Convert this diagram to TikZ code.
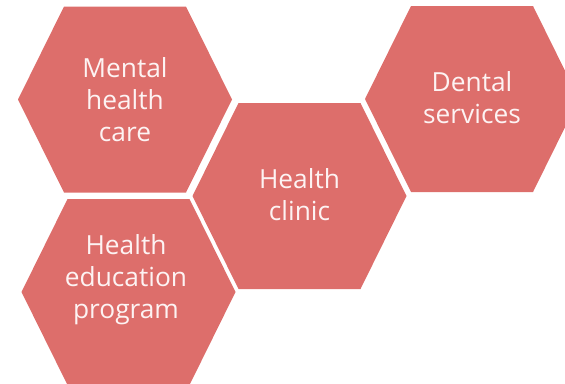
\documentclass[tikz,border=0pt]{standalone}
\usepackage{fontspec}
\setmainfont{Open Sans}
\definecolor{hexred}{HTML}{DD6E6B}
\definecolor{hextext}{HTML}{FDF3F3}
\tikzset{
  hexfill/.style={fill=hexred},
  hexlabel/.style={text=hextext, align=center, font=\fontsize{26.3}{32}\selectfont, inner sep=0pt}
}
\newcommand{\hexat}[2]{%
  \fill[hexfill] ({#1-107},{#2}) -- ({#1-61},{#2-93}) -- ({#1+61},{#2-93}) --
    ({#1+107},{#2}) -- ({#1+61},{#2+93}) -- ({#1-61},{#2+93}) -- cycle;}
\begin{document}
\begin{tikzpicture}[x=1pt,y=-1pt]
\useasboundingbox (0,0) rectangle (565,383);
\clip (0,0) rectangle (565,383);
\hexat{125}{99.5}
\hexat{299.5}{196}
\hexat{472}{99}
\hexat{128.5}{292}
\node[hexlabel] (mental) at (125,100) {Mental\\health\\care};
\node[hexlabel] (clinic) at (299.5,195) {Health\\clinic};
\node[hexlabel] (dental) at (472,97.5) {Dental\\services};
\node[hexlabel] (education) at (126,280) {Health\\education\\program};
\end{tikzpicture}
\end{document}
